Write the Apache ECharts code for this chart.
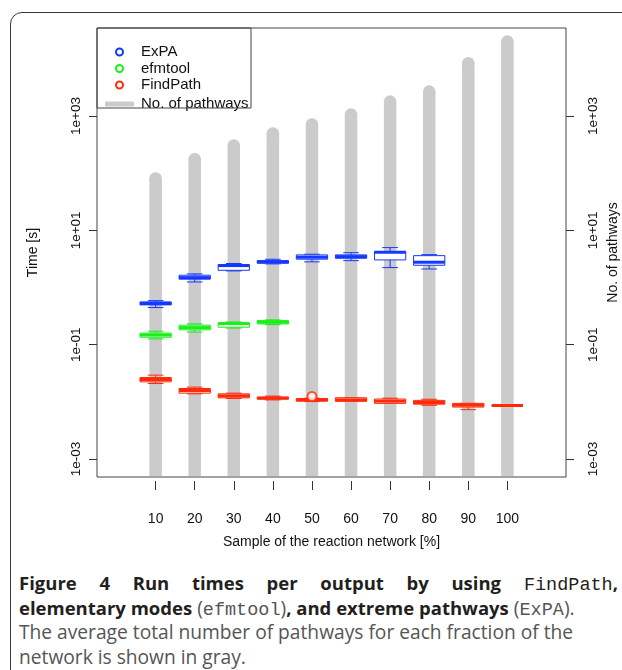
<!DOCTYPE html>
<html>
<head>
<meta charset="utf-8">
<script src="https://cdn.jsdelivr.net/npm/echarts@6/dist/echarts.min.js"></script>
<style>
  body { margin: 0; background: #fff; width: 622px; height: 670px; overflow: hidden; position: relative; }
  #frame { position: absolute; left: 10px; top: 12px; width: 640px; height: 700px; border: 1.5px solid #3a3a3a; border-radius: 12px; }
  #chart { position: absolute; left: 0; top: 0; width: 622px; height: 560px; }
  #caption { position: absolute; left: 19px; top: 571px; width: 599px; font-family: 'Open Sans'; font-size: 19.2px; color: #555; }
  #caption div { height: 24.7px; line-height: 24.7px; white-space: nowrap; }
  #caption .l1 { text-align: justify; text-align-last: justify; white-space: normal; }
  #caption b { color: #231f20; font-weight: 700; font-size: 18.5px; }
  #caption .m { font-family: 'Liberation Mono'; font-size: 18.5px; }
</style>
</head>
<body>
<div id="frame"></div>
<div id="chart"></div>
<div id="caption">
  <div class="l1"><b>Figure 4 Run times per output by using</b> <span class="m" style="color:#231f20">FindPath</span><b>,</b></div>
  <div><b>elementary modes</b> (<span class="m">efmtool</span>)<b>, and extreme pathways</b> (<span class="m">ExPA</span>).</div>
  <div>The average total number of pathways for each fraction of the</div>
  <div>network is shown in gray.</div>
</div>
<script>
(function(){
    'use strict';

    var categories = ['', '10', '20', '30', '40', '50', '60', '70', '80', '90', '100', ''];
    // average number of pathways per fraction (gray)
    var pathways = [null, 81, 176, 305, 494, 710, 1062, 1790, 2680, 8380, 20100, null];
    // [category index, low whisker, q1, median, q3, high whisker]
    var expaBoxes = [
        [1, 0.446, 0.497, 0.527, 0.560, 0.590],
        [2, 1.25, 1.40, 1.49, 1.64, 1.73],
        [3, 1.95, 2.00, 2.42, 2.51, 2.63],
        [4, 2.59, 2.66, 2.81, 2.95, 3.12],
        [5, 2.81, 3.13, 3.39, 3.72, 3.82],
        [6, 2.95, 3.25, 3.47, 3.72, 4.07],
        [7, 2.23, 3.04, 4.14, 4.25, 4.99],
        [8, 2.11, 2.45, 2.77, 3.61, 3.76]
    ];
    var efmtoolBoxes = [
        [1, 0.126, 0.135, 0.147, 0.159, 0.172],
        [2, 0.166, 0.182, 0.199, 0.219, 0.231],
        [3, 0.195, 0.202, 0.234, 0.240, 0.250],
        [4, 0.224, 0.231, 0.247, 0.264, 0.272]
    ];
    var findPathBoxes = [
        [1, 0.0209, 0.0224, 0.0245, 0.0266, 0.0293],
        [2, 0.0138, 0.0142, 0.0158, 0.0171, 0.0181],
        [3, 0.01143, 0.01175, 0.01274, 0.0138, 0.0142],
        [4, 0.0108, 0.0112, 0.0116, 0.0121, 0.0126],
        [5, 0.0101, 0.01028, 0.01084, 0.01143, 0.0116],
        [6, 0.0102, 0.0102, 0.01084, 0.0118, 0.0118],
        [7, 0.0094, 0.0094, 0.01028, 0.0112, 0.0116],
        [8, 0.0087, 0.0091, 0.00973, 0.0106, 0.0111],
        [9, 0.0073, 0.0081, 0.00875, 0.0094, 0.0094],
        [10, 0.0086, 0.0086, 0.0086, 0.0086, 0.0086]
    ];
    var findPathOutliers = [[5, 0.0124]];
    var tickExponents = [-3, -1, 1, 3];

    var yMinExp = -3.315, yMaxExp = 4.54;
    var gridTop = 28, gridHeight = 449, gridLeft = 97, gridWidth = 469;
    var decade = gridHeight / (yMaxExp - yMinExp);

    var BLUE = '#1438ff', GREEN = '#19f019', RED = '#ff2a0a', GRAY = '#cbcbcb';
    var FONT = 'Liberation Sans';

    var myChart = echarts.init(document.getElementById('chart'));

    function boxRender(color){
        return function(params, api){
            var x = api.value(0);
            var lo = api.coord([x, api.value(1)]);
            var q1 = api.coord([x, api.value(2)]);
            var med = api.coord([x, api.value(3)]);
            var q3 = api.coord([x, api.value(4)]);
            var hi = api.coord([x, api.value(5)]);
            var w = api.size([1, 1])[0] * 0.8;
            var cw = w * 0.5;
            var cx = med[0];
            var st = {stroke: color, lineWidth: 1};
            return {
                type: 'group',
                children: [
                    {type: 'line', shape: {x1: cx, y1: hi[1], x2: cx, y2: q3[1]}, style: st},
                    {type: 'line', shape: {x1: cx, y1: q1[1], x2: cx, y2: lo[1]}, style: st},
                    {type: 'line', shape: {x1: cx - cw / 2, y1: hi[1], x2: cx + cw / 2, y2: hi[1]}, style: st},
                    {type: 'line', shape: {x1: cx - cw / 2, y1: lo[1], x2: cx + cw / 2, y2: lo[1]}, style: st},
                    {type: 'rect', shape: {x: cx - w / 2, y: q3[1], width: w, height: q1[1] - q3[1]},
                        style: {fill: '#fff', stroke: color, lineWidth: 1}},
                    {type: 'line', shape: {x1: cx - w / 2, y1: med[1], x2: cx + w / 2, y2: med[1]},
                        style: {stroke: color, lineWidth: 3}}
                ]
            };
        };
    }

    function barRender(params, api){
        var top = api.coord([api.value(0), api.value(1)]);
        var bottom = params.coordSys.y + params.coordSys.height - 1;
        var w = 12.5;
        return {
            type: 'group',
            children: [
                {type: 'rect', shape: {x: top[0] - w / 2, y: top[1], width: w, height: bottom - top[1]}, style: {fill: GRAY}},
                {type: 'circle', shape: {cx: top[0], cy: top[1], r: w / 2}, style: {fill: GRAY}}
            ]
        };
    }

    var barData = [];
    pathways.forEach(function(v, i){ if (v != null) barData.push([i, v]); });

    var showCat = function(i, v){ return v !== ''; };
    var expLabel = function(v){
        var e = Math.round(v);
        return '1e' + (e < 0 ? '-' : '+') + ('0' + Math.abs(e));
    };
    var labelStyle = {fontFamily: FONT, fontSize: 13.5, color: '#111'};

    var option = {
        animation: false,
        textStyle: {fontFamily: FONT},
        grid: [
            {left: gridLeft, top: gridTop, width: gridWidth, height: gridHeight, outerBoundsMode: 'none',
                show: true, borderColor: '#444', borderWidth: 1, backgroundColor: 'transparent'},
            {left: gridLeft, width: gridWidth, outerBoundsMode: 'none',
                top: gridTop + (yMaxExp - 3) * decade, height: 6 * decade}
        ],
        legend: [
            {
                orient: 'vertical', left: 110, top: 39, itemWidth: 7, itemHeight: 7, itemGap: 0.5,
                icon: 'emptyCircle', selectedMode: false,
                textStyle: {fontFamily: FONT, fontSize: 15, color: '#111', lineHeight: 16, padding: [0, 0, 0, 13]},
                data: [
                    {name: 'ExPA', itemStyle: {color: BLUE, borderColor: BLUE, borderWidth: 1}},
                    {name: 'efmtool', itemStyle: {color: GREEN, borderColor: GREEN, borderWidth: 1}},
                    {name: 'FindPath', itemStyle: {color: RED, borderColor: RED, borderWidth: 1}}
                ]
            },
            {
                left: 100, top: 91, itemWidth: 29, itemHeight: 5, selectedMode: false,
                textStyle: {fontFamily: FONT, fontSize: 15, color: '#111', lineHeight: 16, padding: [0, 0, 0, 2]},
                data: [{name: 'No. of pathways', icon: 'roundRect', itemStyle: {color: GRAY}}]
            }
        ],
        graphic: [
            {type: 'rect', shape: {x: 97, y: 28, width: 154, height: 80}, style: {fill: 'none', stroke: '#444', lineWidth: 1}, z: 10}
        ],
        xAxis: [
            {
                gridIndex: 0, type: 'category', data: categories, offset: 4,
                axisLine: {show: false},
                axisTick: {show: true, alignWithLabel: true, interval: showCat, length: 9, lineStyle: {color: '#333'}},
                axisLabel: {interval: showCat, fontFamily: FONT, fontSize: 14, color: '#111', margin: 31},
                name: 'Sample of the reaction network [%]', nameLocation: 'middle', nameGap: 54,
                nameTextStyle: {fontFamily: FONT, fontSize: 14, color: '#111'}
            },
            {gridIndex: 1, type: 'category', data: categories, show: false}
        ],
        yAxis: [
            {
                gridIndex: 0, type: 'log', logBase: 10, position: 'left',
                min: Math.pow(10, yMinExp), max: Math.pow(10, yMaxExp),
                axisLine: {show: false}, axisTick: {show: false}, axisLabel: {show: false}, splitLine: {show: false},
                name: 'Time [s]', nameLocation: 'middle', nameGap: 57,
                nameTextStyle: {fontFamily: FONT, fontSize: 14, color: '#111'}
            },
            {
                gridIndex: 0, type: 'log', logBase: 10, position: 'right',
                min: Math.pow(10, yMinExp), max: Math.pow(10, yMaxExp),
                axisLine: {show: false}, axisTick: {show: false}, axisLabel: {show: false}, splitLine: {show: false},
                name: 'No. of pathways', nameLocation: 'middle', nameGap: 40,
                nameTextStyle: {fontFamily: FONT, fontSize: 14, color: '#111'}
            },
            {
                gridIndex: 1, type: 'value', position: 'left',
                min: tickExponents[0], max: tickExponents[tickExponents.length - 1], interval: 2,
                axisLine: {show: false}, splitLine: {show: false},
                axisTick: {show: true, length: 8, lineStyle: {color: '#333'}},
                axisLabel: Object.assign({rotate: 90, margin: 14, formatter: expLabel}, labelStyle)
            },
            {
                gridIndex: 1, type: 'value', position: 'right',
                min: tickExponents[0], max: tickExponents[tickExponents.length - 1], interval: 2,
                axisLine: {show: false}, splitLine: {show: false},
                axisTick: {show: true, length: 8, lineStyle: {color: '#333'}},
                axisLabel: Object.assign({rotate: 90, margin: 20, formatter: expLabel}, labelStyle)
            }
        ],
        series: [
            {name: 'No. of pathways', type: 'custom', xAxisIndex: 0, yAxisIndex: 1,
                itemStyle: {color: GRAY}, renderItem: barRender, encode: {x: 0, y: 1}, data: barData, z: 1},
            {name: 'ExPA', type: 'custom', xAxisIndex: 0, yAxisIndex: 0,
                itemStyle: {color: BLUE}, renderItem: boxRender(BLUE), encode: {x: 0, y: [1, 2, 3, 4, 5]}, data: expaBoxes, z: 3},
            {name: 'efmtool', type: 'custom', xAxisIndex: 0, yAxisIndex: 0,
                itemStyle: {color: GREEN}, renderItem: boxRender(GREEN), encode: {x: 0, y: [1, 2, 3, 4, 5]}, data: efmtoolBoxes, z: 3},
            {name: 'FindPath', type: 'custom', xAxisIndex: 0, yAxisIndex: 0,
                itemStyle: {color: RED}, renderItem: boxRender(RED), encode: {x: 0, y: [1, 2, 3, 4, 5]}, data: findPathBoxes, z: 3},
            {name: 'FindPath', type: 'scatter', xAxisIndex: 0, yAxisIndex: 0,
                symbol: 'emptyCircle', symbolSize: 9, itemStyle: {color: RED, borderWidth: 1}, data: findPathOutliers, z: 4}
        ]
    };
    myChart.setOption(option);
})();
</script>
</body>
</html>
